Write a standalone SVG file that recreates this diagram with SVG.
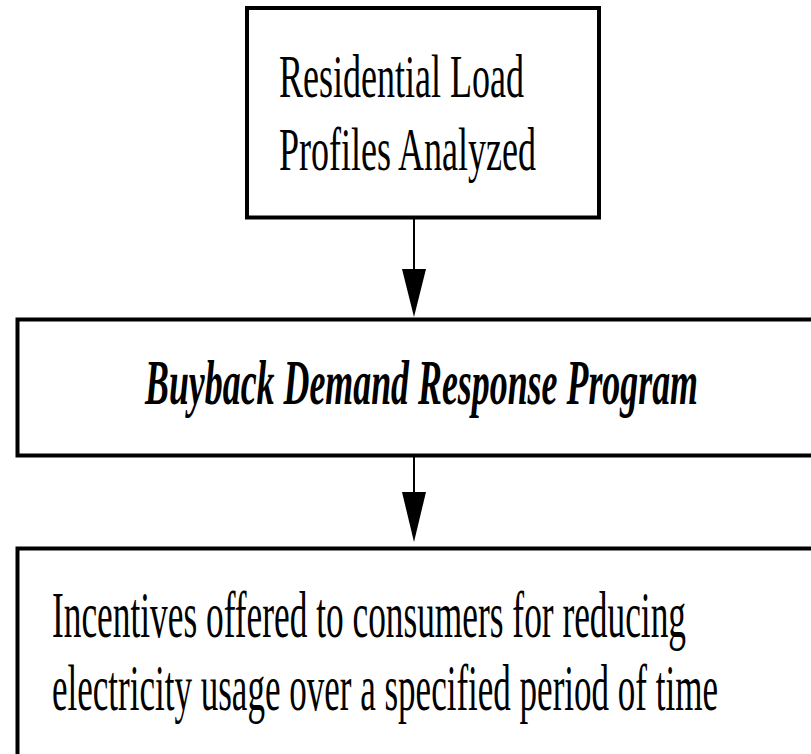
<svg xmlns="http://www.w3.org/2000/svg" width="811" height="754" viewBox="0 0 811 754">
<style>
.box{fill:#fff;stroke:#000;stroke-width:4}
.t{font-family:"Liberation Serif","Times New Roman",serif;fill:#000}
.n{font-size:62px}
.i{font-size:64px;font-style:italic;font-weight:bold}
.b{font-size:65px}
.conn{stroke:#000;stroke-width:2;fill:none}
.head{fill:#000}
</style>
<rect width="811" height="754" fill="#fff"/>
<g id="connectors">
<line class="conn" x1="414" y1="219" x2="414" y2="271"/>
<path class="head" d="M402,269 L426,269 L414,317 Z"/>
<line class="conn" x1="414" y1="457" x2="414" y2="494"/>
<path class="head" d="M402,492 L426,492 L414,542 Z"/>
</g>
<g id="node1">
<rect class="box" x="247" y="8" width="352" height="209.5"/>
<text class="t n" transform="scale(0.58,1)" x="481.03" y="97" textLength="422.4" lengthAdjust="spacingAndGlyphs">Residential Load</text>
<text class="t n" transform="scale(0.58,1)" x="481.03" y="170" textLength="443.1" lengthAdjust="spacingAndGlyphs">Profiles Analyzed</text>
</g>
<g id="node2">
<rect class="box" x="17.5" y="319.5" width="800" height="136"/>
<text class="t i" transform="scale(0.59,1)" x="245.76" y="404" textLength="937.3" lengthAdjust="spacingAndGlyphs">Buyback Demand Response Program</text>
</g>
<g id="node3">
<rect class="box" x="17.5" y="548.5" width="800" height="220"/>
<text class="t b" transform="scale(0.53,1)" x="98.11" y="637" textLength="1196.2" lengthAdjust="spacingAndGlyphs">Incentives offered to consumers for reducing</text>
<text class="t b" transform="scale(0.53,1)" x="98.11" y="710" textLength="1256.6" lengthAdjust="spacingAndGlyphs">electricity usage over a specified period of time</text>
</g>
</svg>
